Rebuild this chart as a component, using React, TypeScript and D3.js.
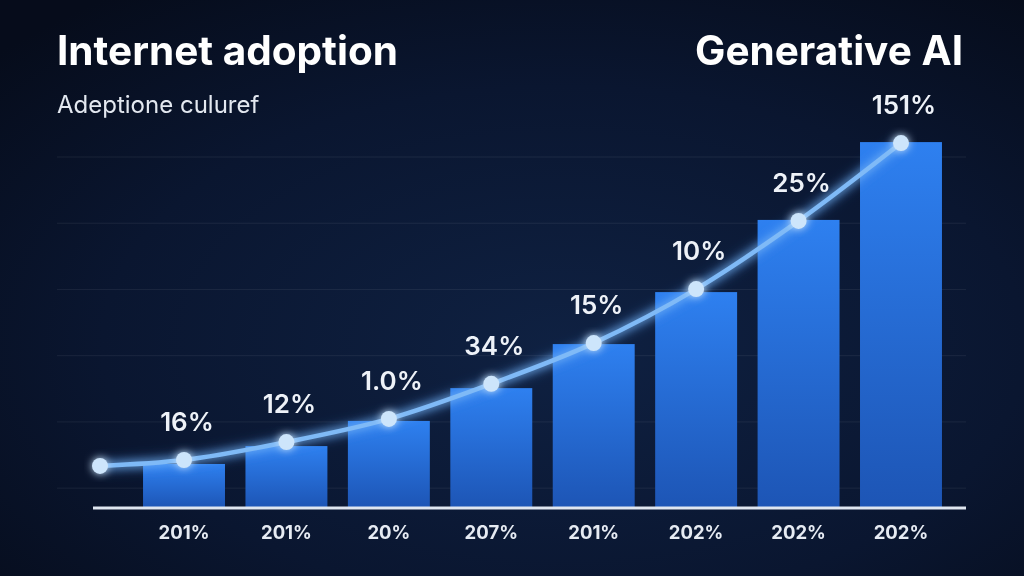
import React from "react";
import * as d3 from "d3";

// chart data
const yearLabels = ["201%", "201%", "20%", "207%", "201%", "202%", "202%", "202%"];
const barValues = [13.3, 18.7, 26.3, 36.2, 49.5, 65.2, 87, 110.5];
const lineValues = [14.5, 19.9, 26.9, 37.5, 49.8, 66.1, 86.7, 110.2];
const lineStartValue = 12.7;
const valueLabels = ["16%", "12%", "1.0%", "34%", "15%", "10%", "25%", "151%"];
const gridValues = [6, 26, 46, 66, 86, 106];

const W = 1024;
const H = 576;
const FONT = "Inter, 'Open Sans', sans-serif";

const App = () => {
  const x = d3
    .scaleBand<number>()
    .domain(d3.range(barValues.length))
    .range([132.8, 952.2])
    .paddingInner(0.2)
    .paddingOuter(0.1);
  const y = d3.scaleLinear().domain([0, 106]).range([508, 157]);

  const cx = (i: number) => (x(i) as number) + x.bandwidth() / 2;

  // line starts at the left edge of the axis, then passes over every bar
  const pts: [number, number][] = [[100, y(lineStartValue)]].concat(
    lineValues.map((v, i) => [cx(i), y(v)] as [number, number])
  ) as [number, number][];

  const line = d3.line().curve(d3.curveMonotoneX)(pts) || "";

  return (
    <svg
      width={W}
      height={H}
      style={{ position: "fixed", left: 0, top: 0 }}
    >
      <defs>
        <radialGradient id="bg" cx="55%" cy="60%" r="75%">
          <stop offset="0%" stopColor="#0f2142" />
          <stop offset="60%" stopColor="#0a1630" />
          <stop offset="100%" stopColor="#060c1b" />
        </radialGradient>
        <linearGradient id="bar" x1="0" y1="0" x2="0" y2="1">
          <stop offset="0%" stopColor="#2e80f0" />
          <stop offset="100%" stopColor="#1d55b5" />
        </linearGradient>
        <filter id="glow" x="-50%" y="-50%" width="200%" height="200%">
          <feGaussianBlur stdDeviation="4" result="b" />
          <feMerge>
            <feMergeNode in="b" />
            <feMergeNode in="SourceGraphic" />
          </feMerge>
        </filter>
        <filter id="soft" x="-20%" y="-20%" width="140%" height="140%">
          <feGaussianBlur stdDeviation="6" />
        </filter>
      </defs>

      <rect width={W} height={H} fill="url(#bg)" />

      {/* grid */}
      {gridValues.map((g, i) => (
        <line
          key={i}
          x1={57}
          x2={966}
          y1={y(g)}
          y2={y(g)}
          stroke="#ffffff"
          strokeOpacity={0.07}
        />
      ))}

      {/* titles */}
      <text x={57} y={65} fill="#ffffff" fontFamily={FONT} fontWeight={700} fontSize={40.5}>
        Internet adoption
      </text>
      <text x={963} y={65} textAnchor="end" fill="#ffffff" fontFamily={FONT} fontWeight={700} fontSize={40.5}>
        Generative AI
      </text>
      <text x={57} y={113} fill="#e3e8f0" fontFamily={FONT} fontSize={24}>
        Adeptione culuref
      </text>

      {/* bars */}
      {barValues.map((v, i) => (
        <rect
          key={i}
          x={x(i)}
          y={y(v)}
          width={x.bandwidth()}
          height={y(0) - y(v)}
          fill="url(#bar)"
        />
      ))}

      {/* baseline */}
      <line x1={93} x2={966} y1={y(0)} y2={y(0)} stroke="#dfe6f0" strokeWidth={3} />

      {/* trend line */}
      <path d={line} fill="none" stroke="#4f9bf5" strokeWidth={12} strokeOpacity={0.35} filter="url(#soft)" />
      <path d={line} fill="none" stroke="#7fbaf7" strokeWidth={4.5} filter="url(#glow)" />
      {pts.map((p, i) => (
        <circle key={i} cx={p[0]} cy={p[1]} r={8} fill="#cde5fb" filter="url(#glow)" />
      ))}

      {/* value labels */}
      {valueLabels.map((t, i) => (
        <text
          key={i}
          x={cx(i) + 3}
          y={y(lineValues[i]) - 29}
          textAnchor="middle"
          fill="#eef2f8"
          fontFamily={FONT}
          fontWeight={600}
          fontSize={26}
        >
          {t}
        </text>
      ))}

      {/* x labels */}
      {yearLabels.map((t, i) => (
        <text
          key={i}
          x={cx(i)}
          y={539}
          textAnchor="middle"
          fill="#e6ebf3"
          fontFamily={FONT}
          fontWeight={700}
          fontSize={18.5}
        >
          {t}
        </text>
      ))}
    </svg>
  );
};

export default App;
